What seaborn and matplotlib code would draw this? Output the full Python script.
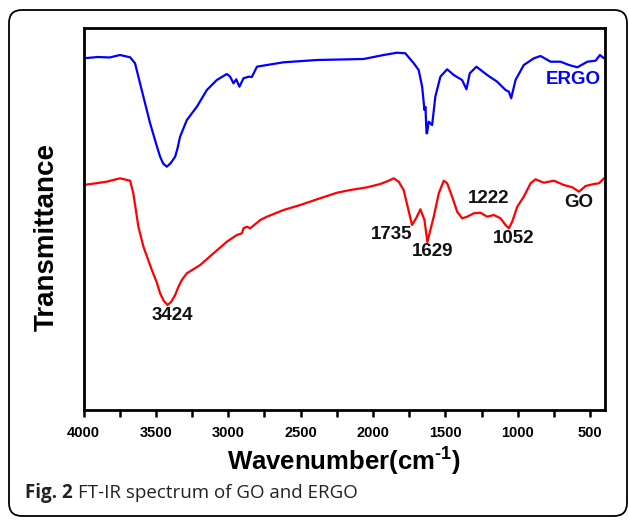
import numpy as np
import pandas as pd
import matplotlib
matplotlib.use("Agg")
import matplotlib.pyplot as plt
import seaborn as sns
from matplotlib.patches import FancyBboxPatch
from matplotlib.ticker import MultipleLocator

# ---- data (arbitrary transmittance units) ----
ergo_wn = [4000, 3900, 3820, 3748, 3678, 3644, 3598, 3540, 3500, 3471, 3450, 3425, 3400,
           3367, 3350, 3333, 3286, 3217,
           3148, 3079, 3010, 2987, 2964, 2945, 2923, 2895, 2860, 2837, 2802, 2733,
           2618, 2387, 2065, 1927, 1834, 1777, 1719, 1685, 1661, 1645, 1638, 1631,
           1627, 1616, 1592, 1570, 1535, 1488, 1443, 1385, 1355, 1332, 1286, 1212,
           1143, 1085, 1062, 1046, 1016, 959, 889, 843, 774, 705, 647, 589, 520,
           463, 433, 405]
ergo_t = [351.7, 353, 352.5, 355, 352.7, 346.7, 320, 286.7, 267, 253.3, 246.5, 243.3, 246.5,
          253.3, 262, 273.3, 290, 303.3,
          320, 330, 336, 333.3, 326.7, 330.7, 323.3, 331.7, 333.3, 333, 343.3, 345,
          347.7, 350, 351, 355, 357.3, 356.7, 346.7, 340, 323.3, 300, 303, 276.7,
          276.7, 288.3, 285, 313.3, 333.3, 340.7, 335, 330, 320.7, 336.7, 343.3, 335,
          328.3, 320, 318.3, 311.7, 330, 345, 351.7, 354, 348.3, 348.3, 345, 342.7, 348.3,
          349.3, 355, 351.7]

go_wn = [4000, 3900, 3840, 3748, 3678, 3656, 3621, 3586, 3528, 3495, 3471, 3445, 3420,
         3395, 3367, 3345, 3321,
         3286, 3194, 3102, 3010, 2941, 2906, 2895, 2871, 2849, 2779, 2733, 2618,
         2503, 2387, 2249, 2157, 2041, 1950, 1892, 1858, 1823, 1789, 1761, 1731,
         1703, 1673, 1645, 1625, 1581, 1546, 1512, 1488, 1454, 1419, 1385, 1350,
         1304, 1258, 1212, 1166, 1120, 1085, 1062, 1039, 1004, 959, 912, 878, 820,
         751, 682, 624, 578, 532, 474, 440, 405]
go_t = [225, 227, 228.3, 231.7, 229.3, 216.7, 183.3, 163.3, 140, 128, 116.7, 109, 105,
        108, 115, 123, 130,
        136.7, 145, 156.7, 168.3, 175, 176.7, 181.7, 183.3, 181.7, 190, 193.3, 200,
        205, 210.7, 217.3, 220, 222.7, 226, 229.3, 231.7, 228.3, 220, 203.3, 185,
        191.7, 200.7, 190, 168, 193.3, 216.7, 229.3, 226.7, 213.3, 198.3, 191.7, 193.3,
        196.7, 197.3, 193.3, 195, 191.7, 185, 181.7, 188.3, 203.3, 213.3, 226.7, 230.7, 227.3,
        229.3, 225, 222.7, 218.3, 224, 226, 226.7, 231.7]

peak_labels = ["3424", "1735", "1629", "1222", "1052"]
peak_label_wn = [3385, 1869, 1592, 1203, 1030]
peak_label_t = [95, 175, 158.3, 211.7, 171.7]

series_names = ["ERGO", "GO"]
series_label_wn = [615, 580]
series_label_t = [330, 207]

xtick_values = [4000, 3500, 3000, 2500, 2000, 1500, 1000, 500]

# ---- style ----
sns.set_style("white")
plt.rcParams["font.family"] = ["Liberation Sans", "DejaVu Sans"]
plt.rcParams["text.color"] = "black"
plt.rcParams["axes.labelcolor"] = "black"
plt.rcParams["xtick.color"] = "black"
plt.rcParams["mathtext.fontset"] = "custom"
plt.rcParams["mathtext.rm"] = "Liberation Sans:bold"
plt.rcParams["mathtext.bf"] = "Liberation Sans:bold"
plt.rcParams["mathtext.it"] = "Liberation Sans:bold"
plt.rcParams["mathtext.default"] = "regular"

W, H = 629, 520
fig = plt.figure(figsize=(W / 100, H / 100), dpi=100)
fig.patch.set_facecolor("white")

left, right, top, bottom = 83.5, 605, 28, 410
ax = fig.add_axes([left / W, 1 - bottom / H, (right - left) / W, (bottom - top) / H])

df_ergo = pd.DataFrame({"Wavenumber": ergo_wn, "T": ergo_t})
df_go = pd.DataFrame({"Wavenumber": go_wn, "T": go_t})
sns.lineplot(data=df_ergo, x="Wavenumber", y="T", ax=ax, color="#0000ff", lw=1.6,
             sort=False, estimator=None)
sns.lineplot(data=df_go, x="Wavenumber", y="T", ax=ax, color="#ff0000", lw=1.6,
             sort=False, estimator=None)

ax.set_xlim(4000, 398)
ax.set_ylim(0, 382)

for s in ax.spines.values():
    s.set_linewidth(2.0)
    s.set_color("black")

ax.xaxis.set_major_locator(MultipleLocator(500))
ax.xaxis.set_minor_locator(MultipleLocator(250))
ax.set_xticks(xtick_values)
ax.set_xticklabels([str(v) for v in xtick_values], fontsize=10.5, fontweight="bold")
ax.tick_params(axis="x", which="both", direction="out", length=5, width=1.8,
               bottom=True, top=False, pad=6.5, colors="black")
ax.tick_params(axis="y", left=False, right=False, labelleft=False)

ax.set_xlabel(r"Wavenumber(cm$^{\text{-1}}$)", fontsize=18.5, fontweight="bold",
              va="center", color="black")
ax.xaxis.set_label_coords(0.5, (bottom - 462) / (bottom - top))
ax.set_ylabel("Transmittance", fontsize=20, fontweight="bold", va="center", color="black")
ax.yaxis.set_label_coords((47 - left) / (right - left), (bottom - 237) / (bottom - top))

for lab, x, y in zip(peak_labels, peak_label_wn, peak_label_t):
    ax.text(x, y, lab, fontsize=13.5, fontweight="bold", color="#111111",
            ha="center", va="center")

for name, x, y, c in zip(series_names, series_label_wn, series_label_t, ["#0000ff", "#111111"]):
    ax.text(x, y, name, fontsize=13.5, fontweight="bold", color=c, ha="center", va="center")

# caption frame
frame = FancyBboxPatch((9 / 100, (H - 516) / 100), (627 - 9) / 100, (516 - 10) / 100,
                       boxstyle="round,pad=0,rounding_size=0.13",
                       transform=fig.dpi_scale_trans, fill=False, edgecolor="black",
                       linewidth=1.3, clip_on=False)
fig.add_artist(frame)

t1 = fig.text(25 / W, 1 - 493 / H, "Fig. 2", fontsize=13.5, fontweight="bold",
              family=["Open Sans", "DejaVu Sans"], ha="left", va="center", color="#222222")
fig.canvas.draw()
bb = t1.get_window_extent()
fig.text((bb.x1 + 5) / W, 1 - 493 / H, "FT-IR spectrum of GO and ERGO", fontsize=13.5,
         family=["Open Sans", "DejaVu Sans"], ha="left", va="center", color="#222222")

fig.savefig("out.png", dpi=100)
